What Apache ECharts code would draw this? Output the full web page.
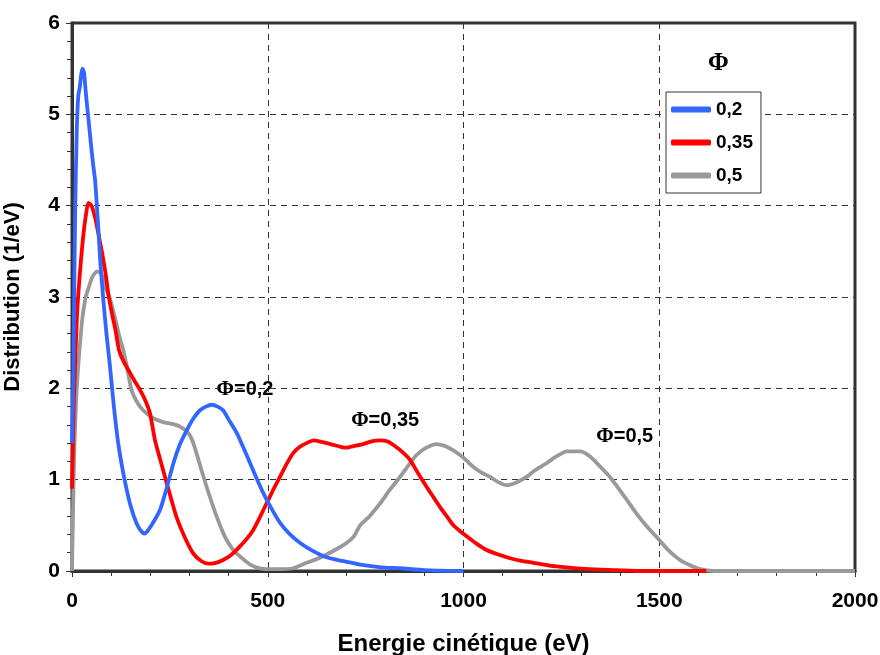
<!DOCTYPE html>
<html>
<head>
<meta charset="utf-8">
<script src="https://cdn.jsdelivr.net/npm/echarts@6/dist/echarts.min.js"></script>
<style>
  html, body { margin: 0; padding: 0; background: #fff; }
  #chart { width: 880px; height: 655px; }
</style>
</head>
<body>
<div id="chart"></div>
<script>
// Kinetic energy distributions for three values of Φ
const seriesNames = ['0,2', '0,35', '0,5'];

const energy02 = [0, 3, 5, 8, 12, 16, 20, 24, 27, 31, 34, 37, 42, 48, 54, 59, 63, 68, 72, 80, 88, 97, 107, 118, 132, 148, 165, 178, 186, 195, 210, 225, 240, 259, 275, 293, 310, 327, 342, 357, 372, 386, 400, 421, 438, 455, 472, 489, 510, 531, 555, 582, 615, 650, 690, 736, 790, 838, 900, 1000];
const dist02 = [1.4, 2.0, 2.8, 3.9, 4.8, 5.2, 5.3, 5.45, 5.5, 5.45, 5.3, 5.16, 4.95, 4.69, 4.45, 4.28, 4.03, 3.7, 3.4, 2.97, 2.6, 2.24, 1.8, 1.40, 1.05, 0.74, 0.52, 0.43, 0.41, 0.45, 0.55, 0.67, 0.88, 1.18, 1.38, 1.54, 1.67, 1.76, 1.80, 1.82, 1.80, 1.76, 1.66, 1.51, 1.35, 1.18, 1.01, 0.85, 0.68, 0.53, 0.41, 0.31, 0.22, 0.15, 0.11, 0.07, 0.04, 0.03, 0.01, 0.0];

const energy035 = [0, 3, 5, 8, 13, 19, 26, 33, 42, 50, 60, 68, 77, 86, 94, 103, 111, 120, 131, 148, 160, 174, 187, 199, 212, 222, 233, 250, 267, 288, 310, 330, 348, 367, 386, 408, 429, 446, 463, 480, 497, 514, 531, 548, 565, 582, 599, 617, 640, 668, 686, 701, 722, 744, 765, 787, 805, 821, 842, 863, 884, 906, 923, 940, 957, 974, 990, 1008, 1033, 1059, 1089, 1119, 1148, 1178, 1220, 1264, 1320, 1392, 1450, 1620];
const dist035 = [0.9, 1.5, 1.9, 2.27, 2.82, 3.2, 3.55, 3.82, 4.03, 4.0, 3.85, 3.68, 3.48, 3.25, 3.0, 2.8, 2.64, 2.42, 2.3, 2.17, 2.08, 1.98, 1.87, 1.73, 1.43, 1.27, 1.10, 0.84, 0.59, 0.37, 0.19, 0.11, 0.08, 0.09, 0.12, 0.18, 0.27, 0.35, 0.45, 0.59, 0.74, 0.89, 1.03, 1.17, 1.29, 1.36, 1.40, 1.43, 1.41, 1.38, 1.36, 1.35, 1.37, 1.39, 1.42, 1.43, 1.42, 1.38, 1.31, 1.22, 1.07, 0.92, 0.81, 0.70, 0.60, 0.50, 0.44, 0.38, 0.30, 0.23, 0.18, 0.14, 0.11, 0.09, 0.06, 0.04, 0.02, 0.01, 0, 0];

const energy05 = [0, 2, 5, 8, 12, 17, 26, 35, 43, 52, 64, 74, 85, 97, 111, 122, 131, 142, 152, 166, 182, 205, 233, 256, 276, 297, 308, 318, 331, 344, 357, 370, 383, 395, 412, 429, 455, 480, 520, 565, 599, 625, 650, 684, 702, 720, 736, 760, 787, 812, 838, 860, 880, 905, 931, 952, 974, 1000, 1025, 1045, 1068, 1090, 1110, 1135, 1161, 1185, 1212, 1235, 1264, 1298, 1315, 1332, 1352, 1374, 1395, 1417, 1440, 1468, 1500, 1525, 1553, 1580, 1604, 1640, 2000];
const dist05 = [0, 0.5, 1.2, 1.6, 2.0, 2.31, 2.75, 3.0, 3.11, 3.22, 3.28, 3.26, 3.11, 2.98, 2.75, 2.55, 2.42, 2.2, 1.98, 1.85, 1.76, 1.68, 1.63, 1.61, 1.58, 1.51, 1.42, 1.29, 1.1, 0.92, 0.75, 0.59, 0.45, 0.34, 0.23, 0.16, 0.07, 0.03, 0.02, 0.03, 0.09, 0.13, 0.18, 0.26, 0.31, 0.38, 0.5, 0.6, 0.74, 0.89, 1.03, 1.16, 1.27, 1.35, 1.39, 1.37, 1.32, 1.24, 1.14, 1.08, 1.03, 0.97, 0.94, 0.97, 1.03, 1.11, 1.18, 1.25, 1.31, 1.31, 1.28, 1.22, 1.13, 1.03, 0.91, 0.78, 0.64, 0.49, 0.34, 0.22, 0.12, 0.06, 0.02, 0, 0];

const xTicks = [0, 500, 1000, 1500, 2000];
const yTicks = [0, 1, 2, 3, 4, 5, 6];

// annotation texts and their anchors in data units (energy, distribution)
const noteTexts = ['=0,2', '=0,35', '=0,5'];
const noteAnchors = [[442, 1.99], [800, 1.65], [1412, 1.47]];

const colors = ['#3366FF', '#FF0000', '#999999'];
const energies = [energy02, energy035, energy05];
const dists = [dist02, dist035, dist05];

const sans = '"Liberation Sans", Arial, sans-serif';
const serif = '"Liberation Serif", "Times New Roman", serif';

const chart = echarts.init(document.getElementById('chart'), null, { renderer: 'canvas' });

const series = seriesNames.map((name, i) => ({
  name: name,
  type: 'line',
  data: energies[i].map((e, k) => [e, dists[i][k]]),
  showSymbol: false,
  symbol: 'none',
  smooth: 0.2,
  lineStyle: { color: colors[i], width: 3.8 },
  itemStyle: { color: colors[i] },
  z: 3 - i,
  markPoint: {
    symbol: 'circle',
    symbolSize: 0,
    silent: true,
    data: [{
      coord: noteAnchors[i],
      label: {
        show: true,
        position: 'inside',
        formatter: '{p|Φ}{t|' + noteTexts[i] + '}',
        rich: {
          p: { fontFamily: serif, fontWeight: 'bold', fontSize: 21, color: '#000' },
          t: { fontFamily: sans, fontWeight: 'bold', fontSize: 20, color: '#000' }
        }
      }
    }]
  }
}));

const option = {
  animation: false,
  backgroundColor: '#fff',
  grid: {
    left: 72, right: 25, top: 23, bottom: 84,
    outerBoundsMode: 'none',
    containLabel: false,
    show: true, borderColor: '#333', borderWidth: 3, backgroundColor: 'transparent'
  },
  legend: {
    data: seriesNames,
    orient: 'vertical',
    left: 666, top: 92,
    backgroundColor: '#fff',
    borderColor: '#333', borderWidth: 1,
    padding: [8, 8, 8, 5],
    itemWidth: 40, itemHeight: 6,
    itemGap: 14,
    icon: 'roundRect',
    textStyle: { fontFamily: sans, fontWeight: 'bold', fontSize: 19, color: '#000' }
  },
  graphic: [{
    type: 'text',
    left: 708, top: 51,
    style: { text: 'Φ', font: 'bold 25px ' + serif, fill: '#000' }
  }],
  xAxis: {
    type: 'value',
    min: xTicks[0], max: xTicks[xTicks.length - 1], interval: 500,
    name: 'Energie cinétique (eV)',
    nameLocation: 'middle', nameGap: 61,
    nameTextStyle: { fontFamily: sans, fontWeight: 'bold', fontSize: 24, color: '#000' },
    axisLine: { show: true, onZero: false, lineStyle: { color: '#333', width: 3 } },
    axisTick: { show: true, inside: false, length: 6, lineStyle: { color: '#333', width: 1 } },
    minorTick: { show: true, splitNumber: 5, length: 5, lineStyle: { color: '#333', width: 1 } },
    axisLabel: {
      fontFamily: sans, fontWeight: 'bold', fontSize: 21, color: '#000', margin: 20,
      formatter: v => String(v)
    },
    splitLine: { show: true, lineStyle: { color: '#333', type: [6, 5], width: 1 } }
  },
  yAxis: {
    type: 'value',
    min: yTicks[0], max: yTicks[yTicks.length - 1], interval: 1,
    name: 'Distribution (1/eV)',
    nameLocation: 'middle', nameGap: 48,
    nameTextStyle: { fontFamily: sans, fontWeight: 'bold', fontSize: 22, color: '#000' },
    axisLine: { show: true, onZero: false, lineStyle: { color: '#333', width: 3 } },
    axisTick: { show: true, inside: false, length: 6, lineStyle: { color: '#333', width: 1 } },
    minorTick: { show: true, splitNumber: 5, length: 5, lineStyle: { color: '#333', width: 1 } },
    axisLabel: {
      fontFamily: sans, fontWeight: 'bold', fontSize: 21, color: '#000', margin: 12,
      formatter: v => String(v)
    },
    splitLine: { show: true, lineStyle: { color: '#333', type: [6, 5], width: 1 } }
  },
  series: series
};

chart.setOption(option);
</script>
</body>
</html>
